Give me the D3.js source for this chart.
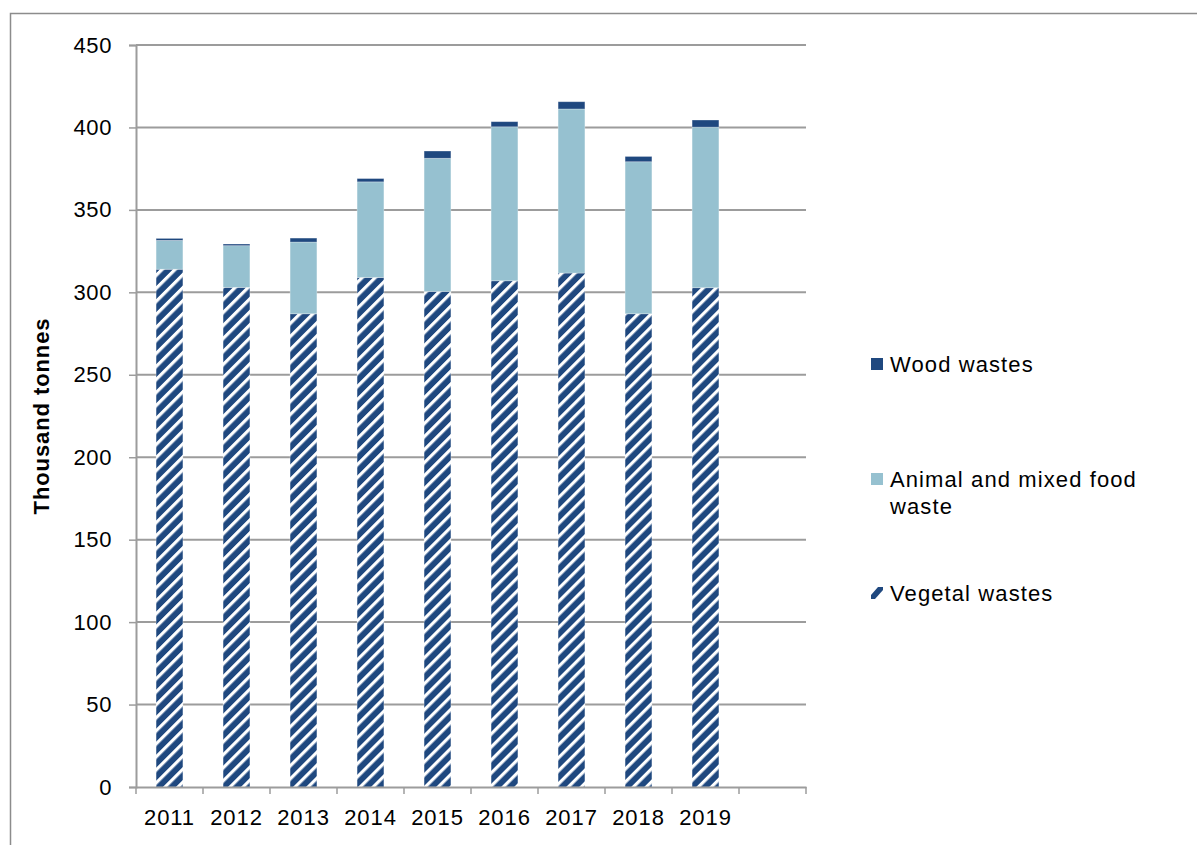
<!DOCTYPE html>
<html>
<head>
<meta charset="utf-8">
<script src="https://cdn.jsdelivr.net/npm/d3@7"></script>
<style>
  html, body { margin: 0; padding: 0; background: #fff; }
  svg { display: block; font-family: "Liberation Sans", Arial, sans-serif; }
</style>
</head>
<body>
<svg id="chart" width="1197" height="845"></svg>
<script>
// Category slots along the x axis (the last slot is left empty)
const categories = ["2011", "2012", "2013", "2014", "2015", "2016", "2017", "2018", "2019", ""];
// Thousand tonnes per year
const vegetal = [314, 303, 287, 309, 300.5, 307, 311.7, 287, 302.8];
const animal  = [17.5, 25.3, 43.5, 58, 80.8, 93.4, 99.5, 92.2, 97.4];
const wood    = [1.2, 1.0, 2.4, 2.0, 4.4, 3.1, 4.4, 3.2, 4.3];
const yTicks  = [0, 50, 100, 150, 200, 250, 300, 350, 400, 450];

const seriesKeys = ["vegetal", "animal", "wood"];
const seriesNames = {
  wood: "Wood wastes",
  animal: ["Animal and mixed food", "waste"],
  vegetal: "Vegetal wastes"
};
const NAVY = "#1f487f";
const LIGHT = "#96c1d0";
const GRID = "#9c9c9c";
const FONT = "Liberation Sans, Arial, sans-serif";

const rows = categories.slice(0, vegetal.length).map((c, i) => ({
  year: c, vegetal: vegetal[i], animal: animal[i], wood: wood[i]
}));

const svg = d3.select("#chart");

// Diagonal stripe fill for vegetal wastes
const defs = svg.append("defs");
const pat = defs.append("pattern")
  .attr("id", "hatch")
  .attr("patternUnits", "userSpaceOnUse")
  .attr("width", 9.2).attr("height", 9.2)
  .attr("patternTransform", "rotate(45)");
pat.append("rect").attr("width", 9.2).attr("height", 9.2).attr("fill", NAVY);
pat.append("rect").attr("x", 0).attr("width", 3.2).attr("height", 9.2).attr("fill", "#ffffff");

const fills = { vegetal: "url(#hatch)", animal: LIGHT, wood: NAVY };

// Outer frame
svg.append("rect")
  .attr("x", 10.5).attr("y", 13.5)
  .attr("width", 1300).attr("height", 1000)
  .attr("fill", "none").attr("stroke", "#8c8c8c").attr("stroke-width", 1.5);

const plot = { left: 136, right: 806, top: 45, bottom: 787 };

const x = d3.scaleBand()
  .domain(categories)
  .range([plot.left, plot.right])
  .paddingInner(0.6)
  .paddingOuter(0.3);

const y = d3.scaleLinear()
  .domain([0, 450])
  .range([plot.bottom, plot.top]);

// Horizontal gridlines
svg.append("g")
  .selectAll("line")
  .data(yTicks.filter(d => d > 0))
  .join("line")
  .attr("x1", plot.left).attr("x2", plot.right)
  .attr("y1", d => y(d)).attr("y2", d => y(d))
  .attr("stroke", GRID).attr("stroke-width", 2);

// Stacked bars
const stacked = d3.stack().keys(seriesKeys)(rows);
svg.append("g")
  .selectAll("g")
  .data(stacked)
  .join("g")
  .attr("fill", d => fills[d.key])
  .selectAll("rect")
  .data(d => d)
  .join("rect")
  .attr("x", d => x(d.data.year))
  .attr("width", x.bandwidth())
  .attr("y", d => y(d[1]))
  .attr("height", d => y(d[0]) - y(d[1]))
  .attr("stroke", "#ffffff").attr("stroke-opacity", 0.35).attr("stroke-width", 0.8);

// Y axis
const yAxis = svg.append("g")
  .attr("transform", `translate(${plot.left},0)`)
  .call(d3.axisLeft(y).tickValues(yTicks).tickSize(7).tickPadding(17).tickFormat(d3.format("d")));
yAxis.select(".domain").attr("stroke", GRID).attr("stroke-width", 2);
yAxis.selectAll(".tick line").attr("stroke", GRID).attr("stroke-width", 1.5);
yAxis.selectAll("text").attr("font-size", 22).attr("fill", "#000")
  .attr("font-family", FONT).attr("letter-spacing", 0.6);

// X axis: labels centred in bands, tick marks on band boundaries
const xAxis = svg.append("g")
  .attr("transform", `translate(0,${plot.bottom})`)
  .call(d3.axisBottom(x).tickSize(0).tickPadding(22));
xAxis.select(".domain").attr("stroke", GRID).attr("stroke-width", 2);
xAxis.selectAll("text").attr("font-size", 22).attr("fill", "#000")
  .attr("font-family", FONT).attr("letter-spacing", 0.9);

const boundaries = d3.range(categories.length + 1).map(i => x.range()[0] + i * x.step());
svg.append("g")
  .selectAll("line")
  .data(boundaries)
  .join("line")
  .attr("x1", d => d).attr("x2", d => d)
  .attr("y1", plot.bottom).attr("y2", plot.bottom + 7)
  .attr("stroke", GRID).attr("stroke-width", 1.5);

// Y axis title
svg.append("text")
  .attr("transform", `translate(49,${(plot.top + plot.bottom) / 2}) rotate(-90)`)
  .attr("text-anchor", "middle")
  .attr("font-size", 22)
  .attr("font-weight", "bold")
  .attr("letter-spacing", 0.9)
  .attr("fill", "#000")
  .text("Thousand tonnes");

// Legend
const legendItems = [
  { key: "wood", y: 364 },
  { key: "animal", y: 479 },
  { key: "vegetal", y: 593 }
];
const legend = svg.append("g");
legendItems.forEach(item => {
  if (item.key === "vegetal") {
    // single diagonal band standing for the striped fill
    const x0 = 871, y0 = item.y - 6, s = 12;
    legend.append("path")
      .attr("d", `M${x0},${y0 + s} L${x0},${y0 + s - 4} L${x0 + 7},${y0} L${x0 + s},${y0} L${x0 + s},${y0 + 3} L${x0 + 4},${y0 + s} Z`)
      .attr("fill", NAVY);
  } else {
    legend.append("rect")
      .attr("x", 871).attr("y", item.y - 6)
      .attr("width", 12).attr("height", 12)
      .attr("fill", fills[item.key]);
  }
  const lines = [].concat(seriesNames[item.key]);
  const t = legend.append("text")
    .attr("x", 890).attr("y", item.y + 7.5)
    .attr("font-size", 22).attr("letter-spacing", 1.1).attr("fill", "#000");
  lines.forEach((ln, i) => {
    t.append("tspan").attr("x", 890).attr("dy", i === 0 ? 0 : 27.5).text(ln);
  });
});
</script>
</body>
</html>
